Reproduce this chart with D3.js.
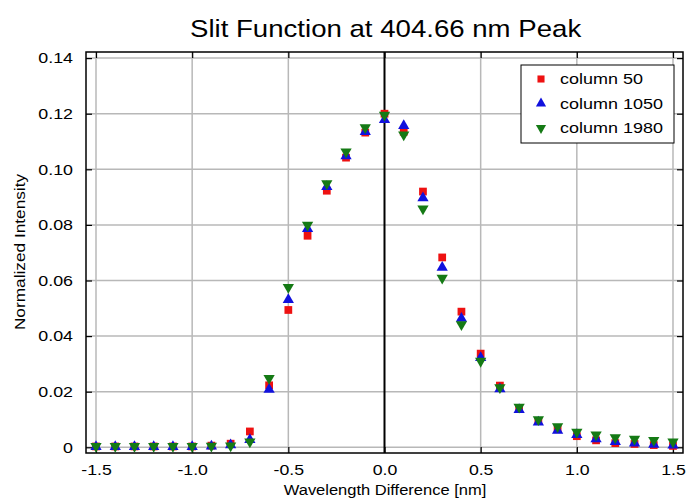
<!DOCTYPE html>
<html>
<head>
<meta charset="utf-8">
<script src="https://cdn.jsdelivr.net/npm/d3@7"></script>
<style>
  body { margin: 0; background: #fff; }
  svg { font-family: "Liberation Sans", Arial, sans-serif; }
</style>
</head>
<body>
<svg id="chart" width="686" height="500"></svg>
<script>
'use strict';

// wavelength offsets [nm]
var offsets = [-1.5, -1.4, -1.3, -1.2, -1.1, -1.0, -0.9, -0.8, -0.7, -0.6, -0.5,
  -0.4, -0.3, -0.2, -0.1, 0.0, 0.1, 0.2, 0.3, 0.4, 0.5,
  0.6, 0.7, 0.8, 0.9, 1.0, 1.1, 1.2, 1.3, 1.4, 1.5];

var col50 = [0.0003, 0.0003, 0.0003, 0.0003, 0.0003, 0.0003, 0.0006, 0.0013, 0.0057, 0.0223, 0.0494,
  0.0761, 0.0923, 0.1042, 0.1132, 0.1200, 0.1135, 0.0920, 0.0683, 0.0488, 0.0337,
  0.0222, 0.0140, 0.0095, 0.0065, 0.0040, 0.0025, 0.0015, 0.0012, 0.0008, 0.0005];

var col1050 = [0.0002, 0.0002, 0.0002, 0.0002, 0.0002, 0.0002, 0.0004, 0.0008, 0.0027, 0.0208, 0.0531,
  0.0786, 0.0937, 0.1048, 0.1135, 0.1178, 0.1157, 0.0897, 0.0647, 0.0463, 0.0322,
  0.0210, 0.0135, 0.0090, 0.0060, 0.0045, 0.0030, 0.0020, 0.0015, 0.0010, 0.0007];

var col1980 = [0.0004, 0.0004, 0.0004, 0.0004, 0.0004, 0.0004, 0.0005, 0.0006, 0.0020, 0.0248, 0.0576,
  0.0800, 0.0949, 0.1063, 0.1150, 0.1195, 0.1124, 0.0858, 0.0609, 0.0442, 0.0310,
  0.0215, 0.0145, 0.0100, 0.0075, 0.0055, 0.0045, 0.0035, 0.0030, 0.0025, 0.0020];

var seriesNames = ['column 50', 'column 1050', 'column 1980'];
var seriesColors = ['#ee1111', '#1111dd', '#157a15'];
var xTicks = [-1.5, -1.0, -0.5, 0.0, 0.5, 1.0, 1.5];
var yTicks = [0, 0.02, 0.04, 0.06, 0.08, 0.10, 0.12, 0.14];

var svg = d3.select('#chart');
var pLeft = 86, pRight = 683, pTop = 52, pBottom = 453;

var x = d3.scaleLinear().domain([-1.552, 1.552]).range([pLeft, pRight]);
var y = d3.scaleLinear().domain([-0.00205, 0.1422]).range([pBottom, pTop]);

// the original text is drawn a bit wide, so stretch it horizontally
function stretch(sel, sx) {
  sel.each(function () {
    var t = d3.select(this);
    var tx = +t.attr('x') || 0, ty = +t.attr('y') || 0;
    t.attr('x', 0).attr('y', 0)
      .attr('transform', 'translate(' + tx + ',' + ty + ') scale(' + sx + ',1)');
  });
}

// grid
var grid = svg.append('g').attr('class', 'grid');
grid.selectAll('line.vx')
  .data(xTicks.filter(function (d) { return d !== 0; }))
  .enter().append('line')
  .attr('x1', function (d) { return x(d); })
  .attr('x2', function (d) { return x(d); })
  .attr('y1', pTop).attr('y2', pBottom)
  .attr('stroke', '#b8b8b8').attr('stroke-width', 1.5);
grid.selectAll('line.hy')
  .data(yTicks)
  .enter().append('line')
  .attr('x1', pLeft).attr('x2', pRight)
  .attr('y1', function (d) { return y(d); })
  .attr('y2', function (d) { return y(d); })
  .attr('stroke', '#b8b8b8').attr('stroke-width', 1.5);
grid.append('line')
  .attr('x1', x(0)).attr('x2', x(0))
  .attr('y1', pTop).attr('y2', pBottom)
  .attr('stroke', '#000').attr('stroke-width', 2);

// axes with inward ticks
var xAxis = d3.axisBottom(x).tickValues(xTicks).tickSize(-6).tickPadding(11)
  .tickFormat(function (d) { return d.toFixed(1); });
var yAxis = d3.axisLeft(y).tickValues(yTicks).tickSize(-6).tickPadding(13)
  .tickFormat(function (d) { return d === 0 ? '0' : d.toFixed(2); });

var gx = svg.append('g').attr('transform', 'translate(0,' + pBottom + ')').call(xAxis);
var gy = svg.append('g').attr('transform', 'translate(' + pLeft + ',0)').call(yAxis);
svg.append('g').attr('transform', 'translate(0,' + pTop + ')')
  .call(d3.axisTop(x).tickValues(xTicks).tickSize(-6).tickFormat(''));
svg.append('g').attr('transform', 'translate(' + pRight + ',0)')
  .call(d3.axisRight(y).tickValues(yTicks).tickSize(-6).tickFormat(''));

svg.selectAll('.domain').remove();
svg.selectAll('.tick line').attr('stroke', '#000').attr('stroke-width', 1.2);
gx.selectAll('text').attr('font-size', 15).attr('fill', '#000').call(stretch, 1.18);
gy.selectAll('text').attr('font-size', 15).attr('fill', '#000').call(stretch, 1.19);

svg.append('rect')
  .attr('x', pLeft).attr('y', pTop)
  .attr('width', pRight - pLeft).attr('height', pBottom - pTop)
  .attr('fill', 'none').attr('stroke', '#000').attr('stroke-width', 1.5);

// markers
var shapes = [d3.symbolSquare, d3.symbolTriangle, d3.symbolTriangle];
var sizes = [60, 55, 55];
var rot = [0, 0, 180];

function drawSeries(vals, i) {
  var sym = d3.symbol().type(shapes[i]).size(sizes[i]);
  svg.append('g').selectAll('path')
    .data(vals.map(function (v, j) { return [offsets[j], v]; }))
    .enter().append('path')
    .attr('d', sym)
    .attr('fill', seriesColors[i])
    .attr('transform', function (d) {
      return 'translate(' + x(d[0]) + ',' + y(d[1]) + ') rotate(' + rot[i] + ')';
    });
}
drawSeries(col50, 0);
drawSeries(col1050, 1);
drawSeries(col1980, 2);

// legend
var lg = svg.append('g').attr('transform', 'translate(521,65)');
lg.append('rect').attr('width', 153).attr('height', 78)
  .attr('fill', '#fff').attr('stroke', '#000').attr('stroke-width', 1);
seriesNames.forEach(function (name, i) {
  var row = lg.append('g').attr('transform', 'translate(0,' + (14 + i * 24.5) + ')');
  row.append('path')
    .attr('d', d3.symbol().type(shapes[i]).size(sizes[i] - 10))
    .attr('fill', seriesColors[i])
    .attr('transform', 'translate(20,0) rotate(' + rot[i] + ')');
  row.append('text').attr('x', 39).attr('y', 5)
    .attr('font-size', 14.5).text(name)
    .call(stretch, 1.24);
});

// titles
svg.append('text').attr('x', 190).attr('y', 37)
  .attr('font-size', 24)
  .text('Slit Function at 404.66 nm Peak')
  .call(stretch, 1.15);
svg.append('text').attr('x', 385).attr('y', 495)
  .attr('text-anchor', 'middle').attr('font-size', 15)
  .text('Wavelength Difference [nm]')
  .call(stretch, 1.1);
svg.append('text')
  .attr('transform', 'translate(25,252) rotate(-90) scale(1.15,1)')
  .attr('text-anchor', 'middle').attr('font-size', 15)
  .text('Normalized Intensity');
</script>
</body>
</html>
